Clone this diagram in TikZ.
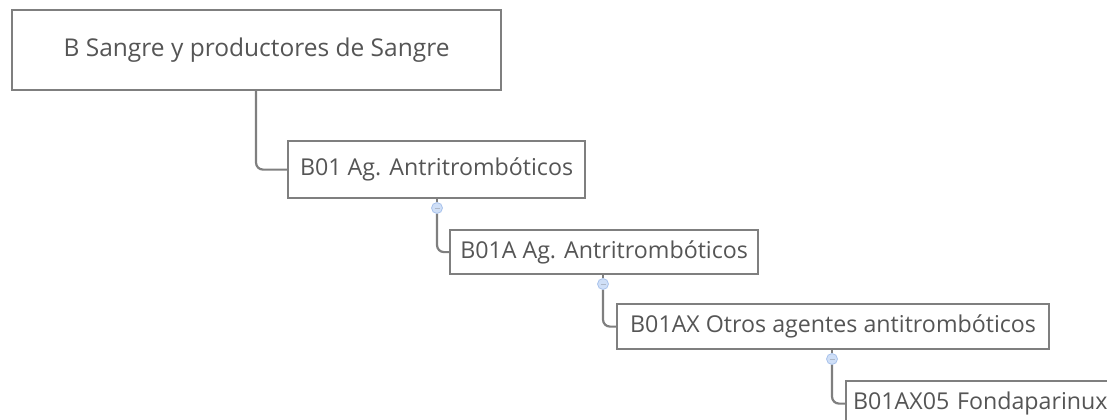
\documentclass[tikz,border=0pt]{standalone}
\usepackage{fontspec}
\setmainfont{Open Sans}
\definecolor{edgegray}{HTML}{7F7F7F}
\definecolor{txtgray}{HTML}{555555}
\definecolor{btnfill}{HTML}{CFDFF7}
\definecolor{btnline}{HTML}{A9C3EC}
\begin{document}
\begin{tikzpicture}[x=1bp,y=-1bp,
  box/.style={draw=edgegray,line width=2.2bp,fill=white,text=txtgray,inner sep=0pt,
    font=\fontsize{23.3}{27}\selectfont,anchor=north west},
  link/.style={draw=edgegray,line width=2.2bp,rounded corners=7bp},
  btn/.style={circle,draw=btnline,fill=btnfill,line width=0.8bp,minimum size=11bp,inner sep=0pt}]
\useasboundingbox (0,0) rectangle (1107,419);
\node[box,minimum width=489bp,minimum height=80bp,font=\fontsize{24.6}{28}\selectfont] (r) at (11,9) {B Sangre y productores de Sangre};
\node[box,minimum width=297bp,minimum height=57bp] (a) at (287,140) {B01 Ag. Antritrombóticos};
\node[box,minimum width=308bp,minimum height=44bp] (b) at (449,229) {B01A Ag. Antritrombóticos};
\node[box,minimum width=432bp,minimum height=45bp] (c) at (616,303) {B01AX Otros agentes antitrombóticos};
\node[box,minimum width=275bp,minimum height=45bp,text width=262bp,align=left,inner xsep=7bp] (d) at (845,380) {B01AX05 Fondaparinux};
\coordinate (ra) at (256,89);
\coordinate (ab) at (437,197);
\coordinate (bc) at (603,273);
\coordinate (cd) at (832,348);
\node[btn] (ba) at (437,208) {};
\node[btn] (bb) at (603,284) {};
\node[btn] (bcb) at (832,359) {};
\draw[link] (ra) |- (a.west);
\draw[link] (ba.south) |- (b.west);
\draw[link] (bb.south) |- (c.west);
\draw[link] (bcb.south) |- (d.west);
\draw[edgegray,line width=2.2bp] (ab) -- (ba.north);
\draw[edgegray,line width=2.2bp] (bc) -- (bb.north);
\draw[edgegray,line width=2.2bp] (cd) -- (bcb.north);
\foreach \n in {ba,bb,bcb} \draw[btnline!70!black!60,line width=0.8bp] ([xshift=-2.5bp]\n.center) -- ([xshift=2.5bp]\n.center);
\end{tikzpicture}
\end{document}
